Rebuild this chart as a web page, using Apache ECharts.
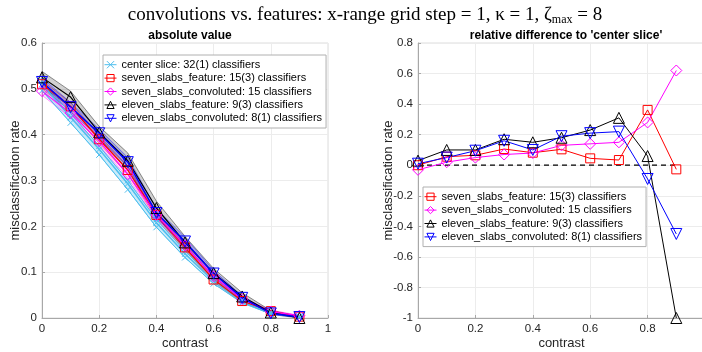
<!DOCTYPE html>
<html>
<head>
<meta charset="utf-8">
<script src="https://cdn.jsdelivr.net/npm/echarts@6/dist/echarts.min.js"></script>
<style>
  html, body { margin: 0; padding: 0; background: #fff; }
  #chart { width: 702px; height: 352px; }
</style>
</head>
<body>
<div id="chart"></div>
<script>
// contrast grid
const contrast = [0, 0.1, 0.2, 0.3, 0.4, 0.5, 0.6, 0.7, 0.8, 0.9];

const legendNames = [
  "center slice: 32(1) classifiers",
  "seven_slabs_feature: 15(3) classifiers",
  "seven_slabs_convoluted: 15 classifiers",
  "eleven_slabs_feature: 9(3) classifiers",
  "eleven_slabs_convoluted: 8(1) classifiers",
];

// absolute value (left panel): mean curve + spread over classifiers
const centerMean = [0.510, 0.438, 0.368, 0.293, 0.208, 0.140, 0.080, 0.036, 0.011, 0.003];
const centerLo   = [0.496, 0.426, 0.356, 0.280, 0.198, 0.132, 0.075, 0.033, 0.009, 0.002];
const centerHi   = [0.518, 0.446, 0.375, 0.300, 0.215, 0.146, 0.085, 0.039, 0.013, 0.004];

const sevenFeatMean = [0.510, 0.462, 0.390, 0.323, 0.225, 0.154, 0.084, 0.037, 0.015, 0.003];
const sevenFeatLo   = [0.500, 0.452, 0.381, 0.313, 0.218, 0.148, 0.079, 0.034, 0.012, 0.002];
const sevenFeatHi   = [0.518, 0.470, 0.398, 0.331, 0.232, 0.160, 0.089, 0.040, 0.017, 0.004];

const sevenConvMean = [0.495, 0.447, 0.386, 0.314, 0.225, 0.158, 0.091, 0.041, 0.014, 0.005];
const sevenConvLo   = [0.486, 0.438, 0.377, 0.305, 0.218, 0.152, 0.086, 0.038, 0.012, 0.003];
const sevenConvHi   = [0.504, 0.456, 0.394, 0.322, 0.232, 0.164, 0.096, 0.044, 0.017, 0.006];

const elevenFeatMean = [0.525, 0.482, 0.405, 0.343, 0.240, 0.165, 0.098, 0.047, 0.012, 0.000];
const elevenFeatLo   = [0.505, 0.460, 0.390, 0.322, 0.222, 0.150, 0.085, 0.037, 0.008, 0.000];
const elevenFeatHi   = [0.538, 0.495, 0.418, 0.360, 0.255, 0.178, 0.108, 0.055, 0.016, 0.003];

const elevenConvMean = [0.515, 0.460, 0.403, 0.340, 0.229, 0.167, 0.097, 0.044, 0.010, 0.002];
const elevenConvLo   = [0.505, 0.450, 0.393, 0.330, 0.220, 0.158, 0.090, 0.040, 0.008, 0.001];
const elevenConvHi   = [0.524, 0.470, 0.412, 0.350, 0.238, 0.176, 0.104, 0.048, 0.012, 0.003];

// relative difference to 'center slice' (right panel)
const relSevenFeat  = [0.00, 0.056, 0.065, 0.106, 0.082, 0.104, 0.045, 0.034, 0.362, -0.027];
const relSevenConv  = [-0.030, 0.020, 0.050, 0.070, 0.080, 0.130, 0.140, 0.150, 0.280, 0.620];
const relElevenFeat = [0.030, 0.100, 0.100, 0.170, 0.150, 0.180, 0.230, 0.310, 0.060, -1.000];
const relElevenConv = [0.010, 0.050, 0.095, 0.160, 0.100, 0.190, 0.210, 0.220, -0.090, -0.450];
const zeroLine      = [0, 0, 0, 0, 0, 0, 0, 0, 0, 0];

const SYM = {
  x: "path://M0,0L10,10M10,0L0,10",
  square: "path://M0,0L10,0L10,10L0,10Z",
  diamond: "path://M5,0L10,5L5,10L0,5Z",
  up: "path://M5,0L10,9L0,9Z",
  down: "path://M0,0L10,0L5,9Z",
};

const font = "'Liberation Sans', Arial, Helvetica, sans-serif";

function pairs(ys) {
  return contrast.map((x, i) => [x, ys[i]]);
}

function lineSeries(name, ys, color, symbol, size, axis, width) {
  return {
    name: name,
    type: "line",
    xAxisIndex: axis,
    yAxisIndex: axis,
    data: pairs(ys),
    symbol: symbol,
    symbolSize: size,
    showSymbol: true,
    animation: false,
    lineStyle: { color: color, width: width || 1 },
    itemStyle: { color: "rgba(0,0,0,0)", borderColor: color, borderWidth: 1 },
    z: 5,
  };
}

function bandSeries(name, lo, hi, fill, stroke) {
  return {
    name: name,
    type: "custom",
    xAxisIndex: 0,
    yAxisIndex: 0,
    data: contrast.map((x, i) => [x, lo[i], hi[i]]),
    encode: { x: 0, y: [1, 2] },
    animation: false,
    silent: true,
    z: 2,
    renderItem: function (params, api) {
      if (params.dataIndex !== 0) return;
      const top = contrast.map((x, i) => api.coord([x, hi[i]]));
      const bot = contrast.map((x, i) => api.coord([x, lo[i]])).reverse();
      return {
        type: "polygon",
        shape: { points: top.concat(bot) },
        style: { fill: fill, stroke: stroke, lineWidth: 0.8 },
      };
    },
  };
}

function legendAt(names, left, top) {
  return {
    data: names,
    orient: "vertical",
    left: left,
    top: top,
    itemWidth: 12,
    itemHeight: 9,
    itemGap: 0,
    padding: [3, 4, 3, 1],
    backgroundColor: "#fff",
    borderColor: "#b0b0b0",
    borderWidth: 1,
    borderRadius: 0,
    itemStyle: { color: "rgba(0,0,0,0)", borderWidth: 1 },
    lineStyle: { width: 1 },
    textStyle: { color: "#000", fontSize: 11, lineHeight: 13.4, fontFamily: font },
    selectedMode: false,
  };
}

const chart = echarts.init(document.getElementById("chart"), null, { renderer: "canvas" });

const axisCommon = {
  axisLine: { show: true, onZero: false, lineStyle: { color: "#a8a8a8", width: 1 } },
  axisTick: { show: true, inside: true, length: 3, lineStyle: { color: "#a8a8a8" } },
  axisLabel: { color: "#262626", fontSize: 11.5, fontFamily: font, margin: 5 },
  splitLine: { show: true, lineStyle: { color: "#ececec", width: 1 } },
  nameTextStyle: { color: "#262626", fontSize: 13, fontFamily: font },
  nameMoveOverlap: false,
};

let option = {
  backgroundColor: "#fff",
  animation: false,
  title: [
    {
      text: "convolutions vs. features: x-range grid step = 1, κ = 1, ζ{sub|max} = 8",
      left: 360,
      textAlign: "center",
      top: 0,
      textStyle: {
        fontFamily: "'Liberation Serif', 'Times New Roman', serif",
        fontWeight: "normal",
        fontSize: 19,
        color: "#000",
        rich: {
          sub: { fontFamily: "'Liberation Serif', serif", fontSize: 12, verticalAlign: "bottom", padding: [9, 0, 0, 0], color: "#000" },
        },
      },
    },
    {
      text: "absolute value",
      left: 185,
      textAlign: "center",
      top: 25,
      textStyle: { fontFamily: font, fontWeight: "bold", fontSize: 12, color: "#000" },
    },
    {
      text: "relative difference to 'center slice'",
      left: 561,
      textAlign: "center",
      top: 25,
      textStyle: { fontFamily: font, fontWeight: "bold", fontSize: 12, color: "#000" },
    },
  ],
  legend: [
    legendAt(legendNames, 103, 55),
    legendAt(legendNames.slice(1), 423, 187),
  ],
  grid: [
    { left: 42, right: 374, top: 43, bottom: 34, outerBoundsMode: "none", containLabel: false,
      show: true, borderColor: "#dcdcdc", borderWidth: 1, backgroundColor: "#fff" },
    { left: 418, right: -3, top: 43, bottom: 34, outerBoundsMode: "none", containLabel: false,
      show: true, borderColor: "#dcdcdc", borderWidth: 1, backgroundColor: "#fff" },
  ],
  xAxis: [
    Object.assign({}, axisCommon, {
      gridIndex: 0, type: "value", min: 0, max: 1, interval: 0.2,
      name: "contrast", nameLocation: "middle", nameGap: 18.5,
    }),
    Object.assign({}, axisCommon, {
      gridIndex: 1, type: "value", min: 0, max: 1, interval: 0.2,
      name: "contrast", nameLocation: "middle", nameGap: 18.5,
    }),
  ],
  yAxis: [
    Object.assign({}, axisCommon, {
      gridIndex: 0, type: "value", min: 0, max: 0.6, interval: 0.1,
      name: "misclassification rate", nameLocation: "middle", nameGap: 20,
    }),
    Object.assign({}, axisCommon, {
      gridIndex: 1, type: "value", min: -1, max: 0.8, interval: 0.2,
      name: "misclassification rate", nameLocation: "middle", nameGap: 23.5,
    }),
  ],
  series: [
    // spreads over classifiers
    bandSeries("spread center", centerLo, centerHi, "rgba(77,190,238,0.30)", "rgba(77,190,238,0.8)"),
    bandSeries("spread seven feat", sevenFeatLo, sevenFeatHi, "rgba(255,0,0,0.12)", "rgba(255,0,0,0.5)"),
    bandSeries("spread seven conv", sevenConvLo, sevenConvHi, "rgba(255,0,255,0.12)", "rgba(255,0,255,0.5)"),
    bandSeries("spread eleven feat", elevenFeatLo, elevenFeatHi, "rgba(0,0,0,0.18)", "rgba(0,0,0,0.55)"),
    bandSeries("spread eleven conv", elevenConvLo, elevenConvHi, "rgba(0,0,255,0.18)", "rgba(0,0,255,0.5)"),

    // left panel curves
    lineSeries("center lo", centerLo, "#4DBEEE", SYM.x, 6, 0, 1),
    lineSeries("center hi", centerHi, "#4DBEEE", SYM.x, 6, 0, 1),
    lineSeries(legendNames[0], centerMean, "#4DBEEE", SYM.x, 6, 0, 1.5),
    lineSeries(legendNames[1], sevenFeatMean, "#FF0000", SYM.square, 9, 0, 1.2),
    lineSeries(legendNames[2], sevenConvMean, "#FF00FF", SYM.diamond, 11, 0, 1.2),
    lineSeries(legendNames[3], elevenFeatMean, "#000000", SYM.up, 11, 0, 1.2),
    lineSeries(legendNames[4], elevenConvMean, "#0000FF", SYM.down, 11, 0, 1.5),

    // right panel
    {
      name: "zero",
      type: "line",
      xAxisIndex: 1,
      yAxisIndex: 1,
      data: pairs(zeroLine),
      showSymbol: false,
      symbol: "none",
      lineStyle: { color: "#000", width: 1.2, type: [5, 4] },
      z: 3,
    },
    lineSeries(legendNames[1], relSevenFeat, "#FF0000", SYM.square, 9, 1, 1),
    lineSeries(legendNames[2], relSevenConv, "#FF00FF", SYM.diamond, 11, 1, 1),
    lineSeries(legendNames[3], relElevenFeat, "#000000", SYM.up, 11, 1, 1),
    lineSeries(legendNames[4], relElevenConv, "#0000FF", SYM.down, 11, 1, 1),
  ],
};

chart.setOption(option);
</script>
</body>
</html>
